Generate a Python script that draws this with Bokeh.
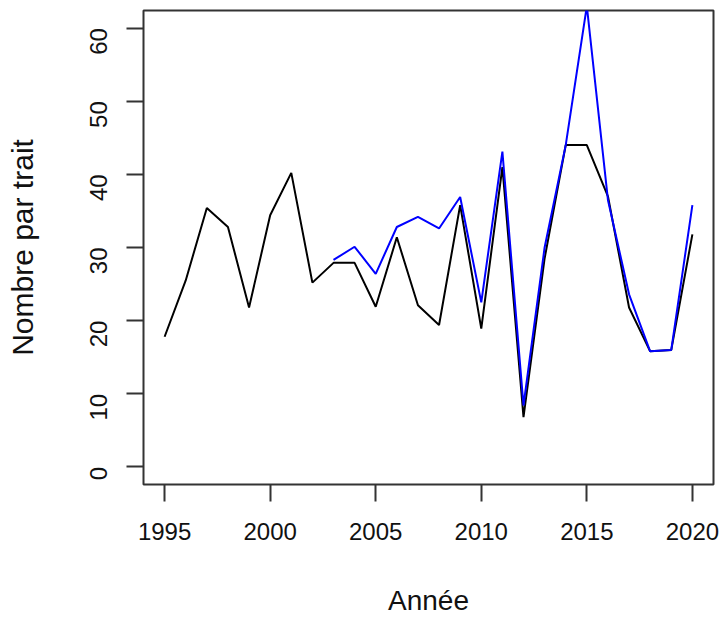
import math
from bokeh.plotting import figure
from bokeh.models import Range1d, FixedTicker
from bokeh.embed import file_html
from bokeh.resources import INLINE

# Annual counts per haul
years = list(range(1995, 2021))
nombre_total = [17.8, 25.5, 35.4, 32.8, 21.8, 34.4, 40.2, 25.2, 27.9, 27.9,
                21.9, 31.4, 22.1, 19.4, 35.8, 18.9, 41.0, 6.8, 28.5, 44.0,
                44.0, 37.0, 21.8, 15.8, 16.0, 31.8]

years_bis = list(range(2003, 2021))
nombre_bis = [28.3, 30.1, 26.4, 32.8, 34.2, 32.6, 36.9, 22.5, 43.1, 8.4,
              30.0, 44.0, 63.0, 36.5, 23.6, 15.8, 16.0, 35.8]

x_ticks = [1995, 2000, 2005, 2010, 2015, 2020]
y_ticks = [0, 10, 20, 30, 40, 50, 60]

FONT = "Liberation Sans"

p = figure(width=725, height=618, output_backend="svg", toolbar_location=None,
           x_range=Range1d(1994, 2021), y_range=Range1d(-2.4, 62.4),
           min_border_left=143, min_border_right=12,
           min_border_top=10, min_border_bottom=134)

p.background_fill_color = "white"
p.border_fill_color = "white"
p.outline_line_color = "#333333"
p.outline_line_width = 2
p.xgrid.visible = False
p.ygrid.visible = False

p.line(years, nombre_total, line_color="black", line_width=2)
p.line(years_bis, nombre_bis, line_color="#0000FF", line_width=2)

for ax in (p.xaxis[0], p.yaxis[0]):
    ax.axis_line_color = None
    ax.major_tick_line_color = "#333333"
    ax.major_tick_line_width = 2
    ax.major_tick_in = 0
    ax.major_tick_out = 17
    ax.minor_tick_line_color = None
    ax.major_label_text_font = FONT
    ax.major_label_text_font_size = "24px"
    ax.major_label_text_color = "#111111"
    ax.axis_label_text_font = FONT
    ax.axis_label_text_font_style = "normal"
    ax.axis_label_text_color = "#111111"

p.xaxis.ticker = FixedTicker(ticks=x_ticks)
p.yaxis.ticker = FixedTicker(ticks=y_ticks)
p.xaxis.major_label_standoff = 21
p.yaxis.major_label_standoff = 28
p.yaxis.major_label_orientation = math.pi / 2

p.xaxis.axis_label = "Année"
p.xaxis.axis_label_text_font_size = "28px"
p.xaxis.axis_label_standoff = 42
p.yaxis.axis_label = "Nombre par trait"
p.yaxis.axis_label_text_font_size = "30px"
p.yaxis.axis_label_standoff = 40

open("out.html", "w").write(file_html(p, INLINE))
